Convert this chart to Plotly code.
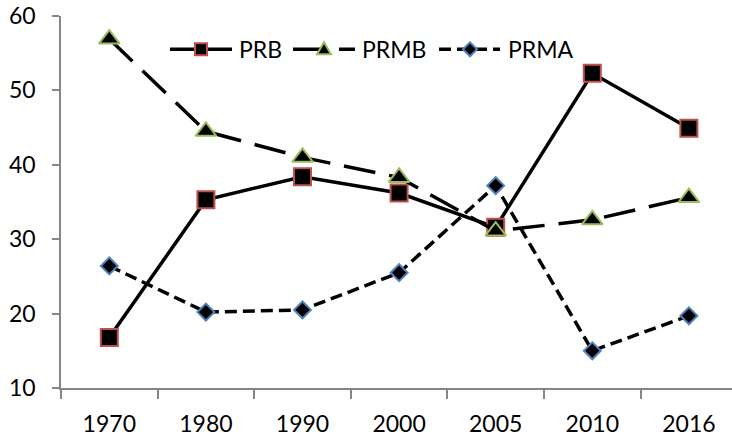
import plotly.graph_objects as go

years = ["1970", "1980", "1990", "2000", "2005", "2010", "2016"]
prb = [16.8, 35.3, 38.4, 36.2, 31.6, 52.3, 44.9]
prmb = [56.9, 44.5, 41.0, 38.3, 31.1, 32.6, 35.6]
prma = [26.4, 20.2, 20.5, 25.5, 37.2, 15.0, 19.7]

W, H = 732, 437
L, R, T, B = 61, 0, 16, 49
PW, PH = W - L - R, H - T - B
FONT = "Lato"
RED, GREEN, BLUE = "#C0504D", "#9BBB59", "#4F81BD"


def xp(px):
    return (px - L) / PW


def yp(py):
    return (H - B - py) / PH


fig = go.Figure()
fig.add_trace(go.Scatter(
    x=years, y=prb, mode="lines+markers", name="PRB",
    line=dict(color="black", width=3.5),
    marker=dict(symbol="square", size=17, color="black", line=dict(color=RED, width=2)),
))
fig.add_trace(go.Scatter(
    x=years, y=prmb, mode="lines+markers", name="PRMB",
    line=dict(color="black", width=3.5, dash="32px,14px"),
    marker=dict(symbol="triangle-up", size=18, color="black", line=dict(color=GREEN, width=2)),
))
fig.add_trace(go.Scatter(
    x=years, y=prma, mode="lines+markers", name="PRMA",
    line=dict(color="black", width=3.5, dash="12px,6px"),
    marker=dict(symbol="diamond", size=13, color="black", line=dict(color=BLUE, width=2)),
))

# manual legend
ly = yp(49.3)
shapes = []
ann = []
items = [
    ("PRB", 170, 232, 201, None, "square", RED, 237),
    ("PRMB", 293, 355, 324, "32px,14px", "tri", GREEN, 360),
    ("PRMA", 439, 500, 470, "12px,6px", "dia", BLUE, 506),
]
for name, x0, x1, xm, dash, sym, col, tx in items:
    ln = dict(color="black", width=3.5)
    if dash:
        ln["dash"] = dash
    shapes.append(dict(type="line", xref="paper", yref="paper",
                       x0=xp(x0), x1=xp(x1), y0=ly, y1=ly, line=ln))
    if sym == "square":
        path = "M-6,-6 L6,-6 L6,6 L-6,6 Z"
    elif sym == "tri":
        path = "M-7,-5 L7,-5 L0,7 Z"
    else:
        path = "M-7,0 L0,-7 L7,0 L0,7 Z"
    shapes.append(dict(type="path", xref="paper", yref="paper",
                       xsizemode="pixel", ysizemode="pixel",
                       xanchor=xp(xm), yanchor=ly, path=path,
                       fillcolor="black", line=dict(color=col, width=2)))
    ann.append(dict(text=name, xref="paper", yref="paper", x=xp(tx), y=ly,
                    xanchor="left", yanchor="middle", showarrow=False,
                    font=dict(family=FONT, size=23, color="black")))

fig.update_layout(
    width=W, height=H,
    margin=dict(l=L, r=R, t=T, b=B, pad=0),
    paper_bgcolor="white", plot_bgcolor="white",
    showlegend=False,
    font=dict(family=FONT, size=23, color="black"),
    shapes=shapes, annotations=ann,
    xaxis=dict(
        type="category", range=[-0.5, -0.5 + PW / 96.6],
        showline=True, linecolor="#868686", linewidth=1.5,
        ticks="outside", tickson="boundaries", ticklen=9, tickwidth=1.5,
        tickcolor="#868686", showgrid=False, zeroline=False,
        ticklabelstandoff=15,
        tickfont=dict(family=FONT, size=23, color="black"),
    ),
    yaxis=dict(
        range=[10, 60], dtick=10, showline=True, linecolor="#868686",
        linewidth=1.5, ticks="outside", ticklen=7, tickwidth=1.5,
        tickcolor="#868686", showgrid=False, zeroline=False,
        ticklabelstandoff=12,
        tickfont=dict(family=FONT, size=23, color="black"),
    ),
)

fig.write_html("out.html")
